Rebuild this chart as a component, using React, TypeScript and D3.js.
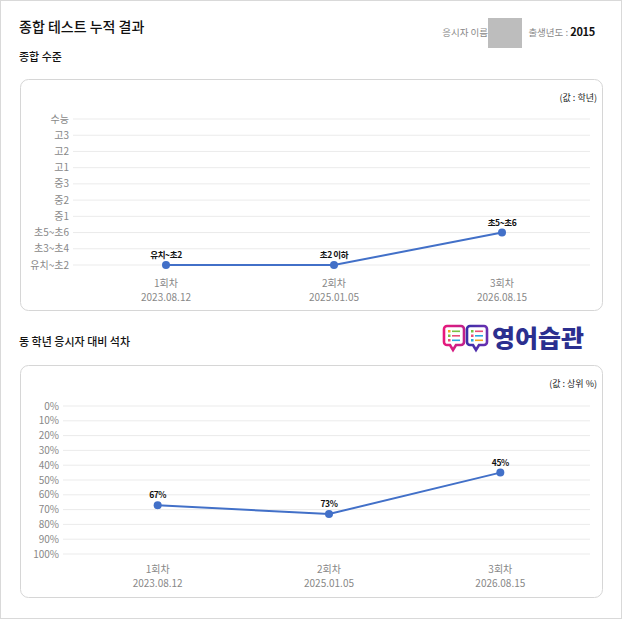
import React, { useEffect, useRef } from 'react';
import * as d3 from 'd3';

const rounds = ['1회차', '2회차', '3회차'];
const dates = ['2023.08.12', '2025.01.05', '2026.08.15'];

const gradeLevels = ['유치~초2', '초3~초4', '초5~초6', '중1', '중2', '중3', '고1', '고2', '고3', '수능'];
const gradeValues = ['유치~초2', '유치~초2', '초5~초6'];
const gradeLabels = ['유치~초2', '초2 이하', '초5~초6'];

const rankTicks = [0, 10, 20, 30, 40, 50, 60, 70, 80, 90, 100];
const rankValues = [67, 73, 45];

const LINE = '#4270c8';
const FONT = '"Noto Sans CJK KR", "Noto Sans", sans-serif';

const App: React.FC = () => {
  const ref = useRef<SVGSVGElement | null>(null);

  useEffect(() => {
    if (!ref.current) return;
    const svg = d3.select(ref.current);
    svg.selectAll('*').remove();
    svg.attr('font-family', FONT);

    // page frame
    svg.append('rect').attr('x', 0.5).attr('y', 0.5).attr('width', 621).attr('height', 618)
      .attr('fill', '#fff').attr('stroke', '#d9d9d9');

    // header
    svg.append('text').attr('x', 19).attr('y', 32).attr('font-size', 14).attr('font-weight', 500)
      .attr('fill', '#111').text('종합 테스트 누적 결과');
    svg.append('text').attr('x', 488).attr('y', 36).attr('text-anchor', 'end').attr('font-size', 9.5)
      .attr('fill', '#888').text('응시자 이름');
    svg.append('rect').attr('x', 488).attr('y', 18).attr('width', 34).attr('height', 30).attr('fill', '#bdbdbd');
    const by = svg.append('text').attr('x', 595).attr('y', 36).attr('text-anchor', 'end')
      .attr('font-size', 9.5).attr('fill', '#888');
    by.append('tspan').text('출생년도 : ');
    by.append('tspan').attr('font-size', 11).attr('font-weight', 600).attr('fill', '#111')
      .attr('letter-spacing', -0.3).text('2015');

    svg.append('text').attr('x', 19).attr('y', 61).attr('font-size', 11).attr('font-weight', 500)
      .attr('fill', '#111').text('종합 수준');
    svg.append('text').attr('x', 19).attr('y', 346).attr('font-size', 11).attr('font-weight', 500)
      .attr('fill', '#111').text('동 학년 응시자 대비 석차');

    // logo
    const logo = svg.append('g').attr('transform', 'translate(443,324)');
    const defs = svg.append('defs');
    const g1 = defs.append('linearGradient').attr('id', 'lg1').attr('x1', 0).attr('x2', 1);
    g1.append('stop').attr('offset', 0).attr('stop-color', '#e6197c');
    g1.append('stop').attr('offset', 1).attr('stop-color', '#c0208a');
    const g2 = defs.append('linearGradient').attr('id', 'lg2').attr('x1', 0).attr('x2', 1);
    g2.append('stop').attr('offset', 0).attr('stop-color', '#3a2fa8');
    g2.append('stop').attr('offset', 1).attr('stop-color', '#6a2fb0');
    [0, 1].forEach(i => {
      const gx = i * 23;
      logo.append('path')
        .attr('d', `M${gx + 4},2 h14 a3,3 0 0 1 3,3 v13 a3,3 0 0 1 -3,3 h-5 l-3,5 l-3,-5 h-3 a3,3 0 0 1 -3,-3 v-13 a3,3 0 0 1 3,-3 z`)
        .attr('fill', '#fff').attr('stroke', i === 0 ? 'url(#lg1)' : 'url(#lg2)').attr('stroke-width', 2.6);
      const cols = ['#f5a623', '#7ac143', '#e94e77', '#29a8e0'];
      [0, 1, 2].forEach(r => {
        logo.append('rect').attr('x', gx + 5).attr('y', 6 + r * 4.5).attr('width', 2.5).attr('height', 2.5)
          .attr('fill', cols[(r + i) % 4]);
        logo.append('rect').attr('x', gx + 9).attr('y', 6.5 + r * 4.5).attr('width', 8).attr('height', 1.6)
          .attr('fill', cols[(r + i + 1) % 4]);
      });
    });
    logo.append('text').attr('x', 49).attr('y', 23).attr('font-size', 24).attr('font-weight', 900)
      .attr('fill', '#2b2f8f').attr('textLength', 92).attr('lengthAdjust', 'spacingAndGlyphs').text('영어습관');

    const panel = (y: number, h: number, unit: string) => {
      svg.append('rect').attr('x', 20.5).attr('y', y + 0.5).attr('width', 582).attr('height', h)
        .attr('rx', 8).attr('fill', '#fff').attr('stroke', '#d6d6d6');
      svg.append('text').attr('x', 597).attr('y', y + 22).attr('text-anchor', 'end').attr('font-size', 9)
        .attr('fill', '#222').text(unit);
    };

    const drawChart = (
      yScale: (v: any) => number,
      ticks: any[],
      fmt: (v: any) => string,
      xScale: d3.ScalePoint<string>,
      gridX0: number,
      values: any[],
      labels: string[],
      xLabelY: number,
    ) => {
      const g = svg.append('g');
      g.selectAll('line.grid').data(ticks).enter().append('line')
        .attr('x1', gridX0).attr('x2', 590)
        .attr('y1', d => yScale(d)).attr('y2', d => yScale(d))
        .attr('stroke', '#ebebeb').attr('stroke-width', 1);
      g.selectAll('text.tick').data(ticks).enter().append('text')
        .attr('x', gridX0 - 4).attr('y', d => yScale(d)).attr('dy', '0.35em')
        .attr('text-anchor', 'end').attr('font-size', 10).attr('fill', '#888').text(fmt);

      const line = d3.line<any>().x((_, i) => xScale(rounds[i])!).y(d => yScale(d));
      g.append('path').attr('d', line(values)).attr('fill', 'none').attr('stroke', LINE).attr('stroke-width', 2);
      g.selectAll('circle').data(values).enter().append('circle')
        .attr('cx', (_, i) => xScale(rounds[i])!).attr('cy', d => yScale(d)).attr('r', 4).attr('fill', LINE);
      g.selectAll('text.val').data(values).enter().append('text')
        .attr('x', (_, i) => xScale(rounds[i])!).attr('y', d => yScale(d) - 7)
        .attr('text-anchor', 'middle').attr('font-size', 8.5).attr('font-weight', 700)
        .attr('letter-spacing', -0.4).attr('fill', '#111').text((_, i) => labels[i]);

      rounds.forEach((r, i) => {
        const x = xScale(r)!;
        g.append('text').attr('x', x).attr('y', xLabelY).attr('text-anchor', 'middle')
          .attr('font-size', 10).attr('fill', '#888').text(r);
        g.append('text').attr('x', x).attr('y', xLabelY + 14).attr('text-anchor', 'middle')
          .attr('font-size', 10).attr('fill', '#888').text(dates[i]);
      });
    };

    // chart 1
    panel(79, 231, '(값 : 학년)');
    const y1 = d3.scalePoint<string>().domain(gradeLevels).range([265, 119]);
    const x1 = d3.scalePoint<string>().domain(rounds).range([82, 586]).padding(0.5);
    drawChart(v => y1(v)!, gradeLevels, d => d, x1, 73, gradeValues, gradeLabels, 287);

    // chart 2
    panel(365, 232, '(값 : 상위 %)');
    const y2 = d3.scaleLinear().domain([0, 100]).range([406, 554]);
    const x2 = d3.scalePoint<string>().domain(rounds).range([72, 586]).padding(0.5);
    drawChart(v => y2(v), rankTicks, d => `${d}%`, x2, 63, rankValues, rankValues.map(v => `${v}%`), 573);
  }, []);

  return (
    <svg ref={ref} width={622} height={619}
      style={{ position: 'absolute', left: 0, top: 0, display: 'block' }} />
  );
};

export default App;
